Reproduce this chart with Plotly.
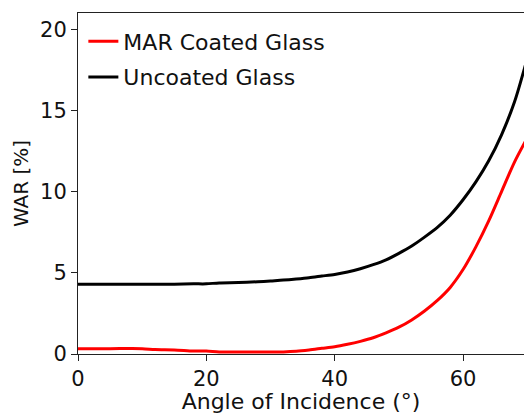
import plotly.graph_objects as go

angle = [0, 5, 10, 12, 15, 18, 20, 22, 25, 28, 30, 32, 34, 36, 38, 40, 42, 44, 46, 48,
         50, 52, 54, 56, 58, 60, 62, 64, 66, 68, 70]
uncoated = [4.3, 4.3, 4.3, 4.3, 4.3, 4.32, 4.32, 4.38, 4.4, 4.45, 4.5, 4.55, 4.62, 4.7, 4.8,
            4.9, 5.05, 5.25, 5.5, 5.8, 6.2, 6.65, 7.2, 7.8, 8.55, 9.5, 10.6, 11.9, 13.5, 15.5, 18.2]
mar = [0.33, 0.33, 0.33, 0.27, 0.25, 0.18, 0.18, 0.13, 0.12, 0.12, 0.12, 0.13, 0.17, 0.25,
       0.35, 0.45, 0.6, 0.78, 1.0, 1.3, 1.65, 2.1, 2.65, 3.3, 4.1, 5.2, 6.6, 8.2, 10.0, 11.8, 13.3]

x_ticks = [0, 20, 40, 60]
y_ticks = [0, 5, 10, 15, 20]

FONT = "DejaVu Sans"

fig = go.Figure()
fig.add_trace(go.Scatter(x=angle, y=mar, mode="lines", name="MAR Coated Glass",
                         line=dict(color="#ff0000", width=3, shape="spline", smoothing=0.8),
                         legendgroup="a"))
fig.add_trace(go.Scatter(x=angle, y=uncoated, mode="lines", name="Uncoated Glass",
                         line=dict(color="#000000", width=3, shape="spline", smoothing=0.8),
                         legendgroup="b"))

fig.update_layout(
    width=524, height=414,
    margin=dict(l=78, r=0, t=13, b=60),
    paper_bgcolor="white", plot_bgcolor="white",
    font=dict(family=FONT, size=21, color="#111111"),
    showlegend=True,
    legend=dict(x=0.012, y=0.978, xanchor="left", yanchor="top",
                bgcolor="rgba(0,0,0,0)", font=dict(size=22, family=FONT),
                tracegroupgap=4, itemwidth=30),
    xaxis=dict(range=[0, 69.5], tickvals=x_ticks, ticks="outside", ticklen=6,
               tickcolor="#222", showline=True, linecolor="#222", linewidth=1,
               mirror=True, showgrid=False, zeroline=False,
               tickfont=dict(size=21),
               title=dict(text="Angle of Incidence (°)", font=dict(size=22), standoff=1)),
    yaxis=dict(range=[0, 21], tickvals=y_ticks, ticks="outside", ticklen=6,
               tickcolor="#222", showline=True, linecolor="#222", linewidth=1,
               showgrid=False, zeroline=False, tickfont=dict(size=21),
               title=dict(text="WAR [%]", font=dict(size=20), standoff=6)),
)

fig.write_html("out.html")
